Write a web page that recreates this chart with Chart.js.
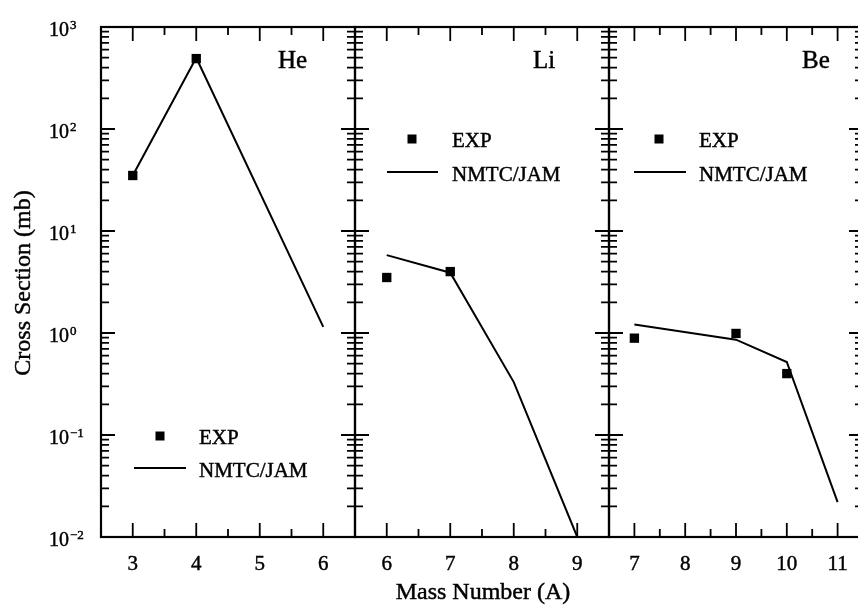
<!DOCTYPE html>
<html>
<head>
<meta charset="utf-8">
<script src="https://cdn.jsdelivr.net/npm/chart.js@4.4.1/dist/chart.umd.min.js"></script>
<style>
  html, body { margin: 0; padding: 0; overflow: hidden; background: #fff; }
  #wrap { position: relative; width: 858px; height: 605px; overflow: hidden; }
  #wrap canvas { position: absolute; left: 0; top: 0; }
</style>
</head>
<body>
<div id="wrap">
  <canvas id="grafico-he" width="870" height="605"></canvas>
  <canvas id="grafico-li" width="870" height="605"></canvas>
  <canvas id="grafico-be" width="870" height="605"></canvas>
</div>
<script>
// Dados do painel He
var massaHe = [3, 4];
var expHe = [35, 490];
var massaCalcHe = [3, 4, 6];
var calcHe = [35, 500, 1.15];
var ticksHe = [3, 4, 5, 6];

// Dados do painel Li
var massaLi = [6, 7];
var expLi = [3.5, 4.0];
var massaCalcLi = [6, 7, 8, 9];
var calcLi = [5.8, 3.9, 0.33, 0.01];
var ticksLi = [6, 7, 8, 9];

// Dados do painel Be
var massaBe = [7, 9, 10];
var expBe = [0.89, 0.99, 0.4];
var massaCalcBe = [7, 9, 10, 11];
var calcBe = [1.21, 0.86, 0.52, 0.022];
var ticksBe = [7, 8, 9, 10, 11];
var rotulosBe = ["7", "8", "9", "10", "11"];

// Eixo y (log)
var decadasY = [0.01, 0.1, 1, 10, 100, 1000];
var expoentesY = ["\u22122", "\u22121", "0", "1", "2", "3"];
var multiplicadoresMenores = [2, 3, 4, 5, 6, 7, 8, 9];

var fonte = "'Liberation Serif', 'Times New Roman', serif";

function pontos(xs, ys) {
  return xs.map(function (x, i) {
    return { x: x, y: ys[i] };
  });
}

// texto um pouco mais grosso, como no original escaneado
function texto(ctx, s, x, y) {
  ctx.fillText(s, x, y);
  ctx.strokeText(s, x, y);
}

//Plugin que desenha eixos, ticks, rótulos e legenda de cada painel
function pluginPainel(p) {
  return {
    id: "painel",
    afterDraw: function (chart) {
      var ctx = chart.ctx;
      var a = chart.chartArea;
      var sx = chart.scales.x;
      var sy = chart.scales.y;
      ctx.save();
      ctx.strokeStyle = "#000";
      ctx.fillStyle = "#000";

      // ticks do eixo y (dentro, dos dois lados)
      ctx.lineWidth = 1.8;
      function tickY(py, len) {
        ctx.beginPath();
        ctx.moveTo(a.left, py);
        ctx.lineTo(a.left + len, py);
        ctx.moveTo(a.right, py);
        ctx.lineTo(a.right - len, py);
        ctx.stroke();
      }
      decadasY.forEach(function (d, i) {
        tickY(sy.getPixelForValue(d), 14);
        if (i < decadasY.length - 1) {
          multiplicadoresMenores.forEach(function (m) {
            tickY(sy.getPixelForValue(d * m), 8);
          });
        }
      });

      // ticks do eixo x (embaixo e em cima)
      function tickX(px, len) {
        ctx.beginPath();
        ctx.moveTo(px, a.bottom);
        ctx.lineTo(px, a.bottom - len);
        ctx.moveTo(px, a.top);
        ctx.lineTo(px, a.top + len);
        ctx.stroke();
      }
      p.ticks.forEach(function (t) {
        tickX(sx.getPixelForValue(t), 14);
        tickX(sx.getPixelForValue(t + 0.5), 8);
      });

      // moldura
      ctx.lineWidth = 2.2;
      ctx.strokeRect(a.left, a.top, a.right - a.left, a.bottom - a.top);

      ctx.lineWidth = 0.45;
      // rótulos do eixo x
      ctx.font = "21px " + fonte;
      ctx.textAlign = "center";
      ctx.textBaseline = "alphabetic";
      p.ticks.forEach(function (t, i) {
        texto(ctx, p.rotulos[i], sx.getPixelForValue(t), 570);
      });

      // rótulos do eixo y
      if (p.eixoY) {
        ctx.textAlign = "left";
        decadasY.forEach(function (d, i) {
          var py = sy.getPixelForValue(d);
          ctx.font = "20px " + fonte;
          texto(ctx, "10", 49, py + 9);
          var w = ctx.measureText("10").width;
          ctx.font = "13px " + fonte;
          texto(ctx, expoentesY[i], 49 + w + 1, py + 2);
        });
        ctx.save();
        ctx.font = "24px " + fonte;
        ctx.textAlign = "center";
        ctx.textBaseline = "middle";
        ctx.translate(24, 283);
        ctx.rotate(-Math.PI / 2);
        texto(ctx, "Cross Section (mb)", 0, 0);
        ctx.restore();
      }

      if (p.tituloX) {
        ctx.font = "24px " + fonte;
        ctx.textAlign = "center";
        texto(ctx, p.tituloX, 483, 599);
      }

      // nome do elemento
      ctx.font = "25px " + fonte;
      ctx.textAlign = "left";
      texto(ctx, p.nome, a.left + p.nomeX, 68);

      // legenda
      var L = p.legenda;
      ctx.font = "21px " + fonte;
      texto(ctx, "EXP", a.left + L.textoX, L.quadY + 8);
      texto(ctx, "NMTC/JAM", a.left + L.textoX, L.linhaY + 8.5);
      ctx.fillRect(a.left + L.quadX - 4.5, L.quadY - 4.5, 9, 9);
      ctx.lineWidth = 2;
      ctx.beginPath();
      ctx.moveTo(a.left + L.linhaX1, L.linhaY);
      ctx.lineTo(a.left + L.linhaX2, L.linhaY);
      ctx.stroke();
      ctx.restore();
    },
  };
}

function criarGrafico(id, massaExp, exp, massaCalc, calc, xMin, xMax, p) {
  new Chart(document.getElementById(id).getContext("2d"), {
    type: "scatter",
    data: {
      datasets: [
        {
          label: "EXP",
          data: pontos(massaExp, exp),
          showLine: false,
          pointStyle: "rect",
          pointRadius: 6.6,
          backgroundColor: "#000",
          borderColor: "#000",
          borderWidth: 0,
        },
        {
          label: "NMTC/JAM",
          data: pontos(massaCalc, calc),
          showLine: true,
          pointRadius: 0,
          borderColor: "#000",
          borderWidth: 2,
          fill: false,
        },
      ],
    },
    options: {
      responsive: false,
      animation: false,
      events: [],
      layout: { padding: p.padding },
      plugins: {
        legend: { display: false },
        tooltip: { enabled: false },
      },
      scales: {
        x: { type: "linear", min: xMin, max: xMax, display: false },
        y: { type: "logarithmic", min: 0.01, max: 1000, display: false },
      },
    },
    plugins: [pluginPainel(p)],
  });
}

criarGrafico("grafico-he", massaHe, expHe, massaCalcHe, calcHe, 2.5, 6.5, {
  padding: { left: 101, right: 515, top: 27, bottom: 68 },
  ticks: ticksHe,
  rotulos: ticksHe.map(String),
  eixoY: true,
  nome: "He",
  nomeX: 177,
  legenda: { quadX: 59, quadY: 436, linhaX1: 33, linhaX2: 85, linhaY: 468, textoX: 98 },
});

criarGrafico("grafico-li", massaLi, expLi, massaCalcLi, calcLi, 5.5, 9.5, {
  padding: { left: 355, right: 261, top: 27, bottom: 68 },
  ticks: ticksLi,
  rotulos: ticksLi.map(String),
  tituloX: "Mass Number (A)",
  nome: "Li",
  nomeX: 178,
  legenda: { quadX: 57, quadY: 139, linhaX1: 32, linhaX2: 83, linhaY: 172, textoX: 97 },
});

criarGrafico("grafico-be", massaBe, expBe, massaCalcBe, calcBe, 6.5, 11.5, {
  padding: { left: 609, right: 7, top: 27, bottom: 68 },
  ticks: ticksBe,
  rotulos: rotulosBe,
  nome: "Be",
  nomeX: 193,
  legenda: { quadX: 50, quadY: 139, linhaX1: 25, linhaX2: 77, linhaY: 172, textoX: 90 },
});
</script>
</body>
</html>
